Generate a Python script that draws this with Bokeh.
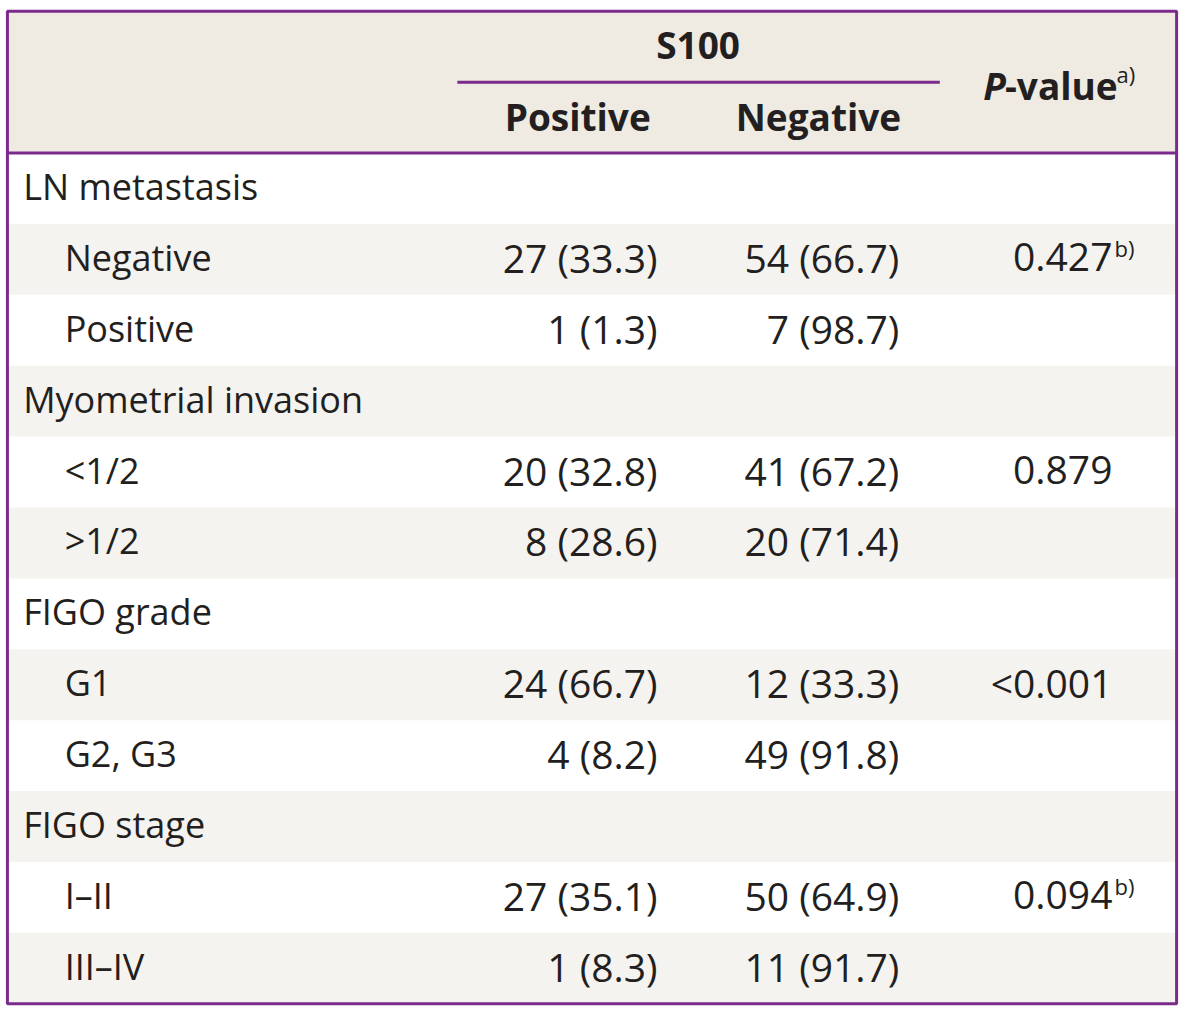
from bokeh.plotting import figure
from bokeh.models import Range1d, ColumnDataSource
from bokeh.core.properties import value
from bokeh.embed import file_html
from bokeh.resources import INLINE

# ---- data ----
groups = ["LN metastasis", "Myometrial invasion", "FIGO grade", "FIGO stage"]
levels = [["Negative", "Positive"], ["<1/2", ">1/2"], ["G1", "G2, G3"], ["I\u2013II", "III\u2013IV"]]
pos_n = [[27, 1], [20, 8], [24, 4], [27, 1]]
pos_pct = [[33.3, 1.3], [32.8, 28.6], [66.7, 8.2], [35.1, 8.3]]
neg_n = [[54, 7], [41, 20], [12, 49], [50, 11]]
neg_pct = [[66.7, 98.7], [67.2, 71.4], [33.3, 91.8], [64.9, 91.7]]
p_values = ["0.427", "0.879", "<0.001", "0.094"]
p_notes = ["b)", "", "", "b)"]
header_group = "S100"
header_cols = ["Positive", "Negative"]
header_p = ("P", "-value", "a)")

# ---- layout ----
FONT = "Open Sans"
FS_LAB = "36px"
FS_NUM = "39px"
FS_HEAD = "37px"
FS_SUP = "22px"
TXT = "#231f20"
PURPLE = "#7b2b8b"
HEAD_BG = "#efebe3"
ALT_BG = "#f5f3ef"

left, right, top, head_bot = 7, 1192, 11, 155
row_h = 72.0
x_lab_g, x_lab_l = 23, 65
x_pos, x_neg, x_p = 666, 911, 1127

p = figure(width=1184, height=1014, x_range=Range1d(0, 1200), y_range=Range1d(1030, 0),
           output_backend="svg", toolbar_location=None, min_border=0)
p.axis.visible = False
p.grid.visible = False
p.outline_line_color = None
p.background_fill_color = "white"

# build rows
rows = []
for g, lv, pn, pp, nn, npct, pv, note in zip(groups, levels, pos_n, pos_pct, neg_n, neg_pct, p_values, p_notes):
    rows.append(dict(label=g, group=True, pos="", neg="", p="", note=""))
    for k, l in enumerate(lv):
        rows.append(dict(label=l, group=False,
                         pos=f"{pn[k]} ({pp[k]})", neg=f"{nn[k]} ({npct[k]})",
                         p=pv if k == 0 else "", note=note if k == 0 else ""))

n = len(rows)
bottom = head_bot + row_h * n
tops = [head_bot + row_h * i for i in range(n)]
bots = [t + row_h for t in tops]
centers = [t + row_h / 2 - 2 for t in tops]

# backgrounds
p.quad(left=[left], right=[right], top=[top], bottom=[head_bot], fill_color=HEAD_BG, line_color=None)
alt = [i for i in range(n) if i % 2 == 1]
p.quad(left=[left] * len(alt), right=[right] * len(alt), top=[tops[i] for i in alt],
       bottom=[bots[i] for i in alt], fill_color=ALT_BG, line_color=None)

# lines
p.segment(x0=[463], y0=[83], x1=[952], y1=[83], line_color=PURPLE, line_width=3)
p.segment(x0=[left], y0=[head_bot], x1=[right], y1=[head_bot], line_color=PURPLE, line_width=3)
p.quad(left=[left], right=[right], top=[top], bottom=[bottom], fill_color=None,
       line_color=PURPLE, line_width=3)

# header text
def txt(x, y, t, align, size=FS_HEAD, style="normal"):
    p.text(x=x, y=y, text=t, text_align=align, text_baseline="middle",
           text_font=value(FONT), text_font_size=size, text_font_style=style, text_color=TXT)

txt([707], [45], [header_group], "center", style="bold")
txt([585], [118], [header_cols[0]], "center", style="bold")
txt([829], [118], [header_cols[1]], "center", style="bold")
txt([1019], [86], [header_p[0]], "right", style="bold italic")
txt([1018], [86], [header_p[1]], "left", style="bold")
txt([1131], [75], [header_p[2]], "left", size=FS_SUP)

# body
src_g = ColumnDataSource(dict(x=[x_lab_g] * n, y=centers, t=[r["label"] if r["group"] else "" for r in rows]))
src_l = ColumnDataSource(dict(x=[x_lab_l] * n, y=centers, t=[r["label"] if not r["group"] else "" for r in rows]))
for s in (src_g, src_l):
    p.text(x="x", y="y", text="t", source=s, text_align="left", text_baseline="middle",
           text_font=value(FONT), text_font_size=FS_LAB, text_color=TXT)

src_v = ColumnDataSource(dict(y=centers, pos=[r["pos"] for r in rows], neg=[r["neg"] for r in rows],
                              pv=[r["p"] for r in rows], note=[r["note"] for r in rows],
                              ys=[c - 10 for c in centers]))
for col, x in (("pos", x_pos), ("neg", x_neg), ("pv", x_p)):
    p.text(x=x, y="y", text=col, source=src_v, text_align="right", text_baseline="middle",
           text_font=value(FONT), text_font_size=FS_NUM, text_color=TXT)
p.text(x=x_p + 2, y="ys", text="note", source=src_v, text_align="left", text_baseline="middle",
       text_font=value(FONT), text_font_size=FS_SUP, text_color=TXT)

open("out.html", "w").write(file_html(p, INLINE))
